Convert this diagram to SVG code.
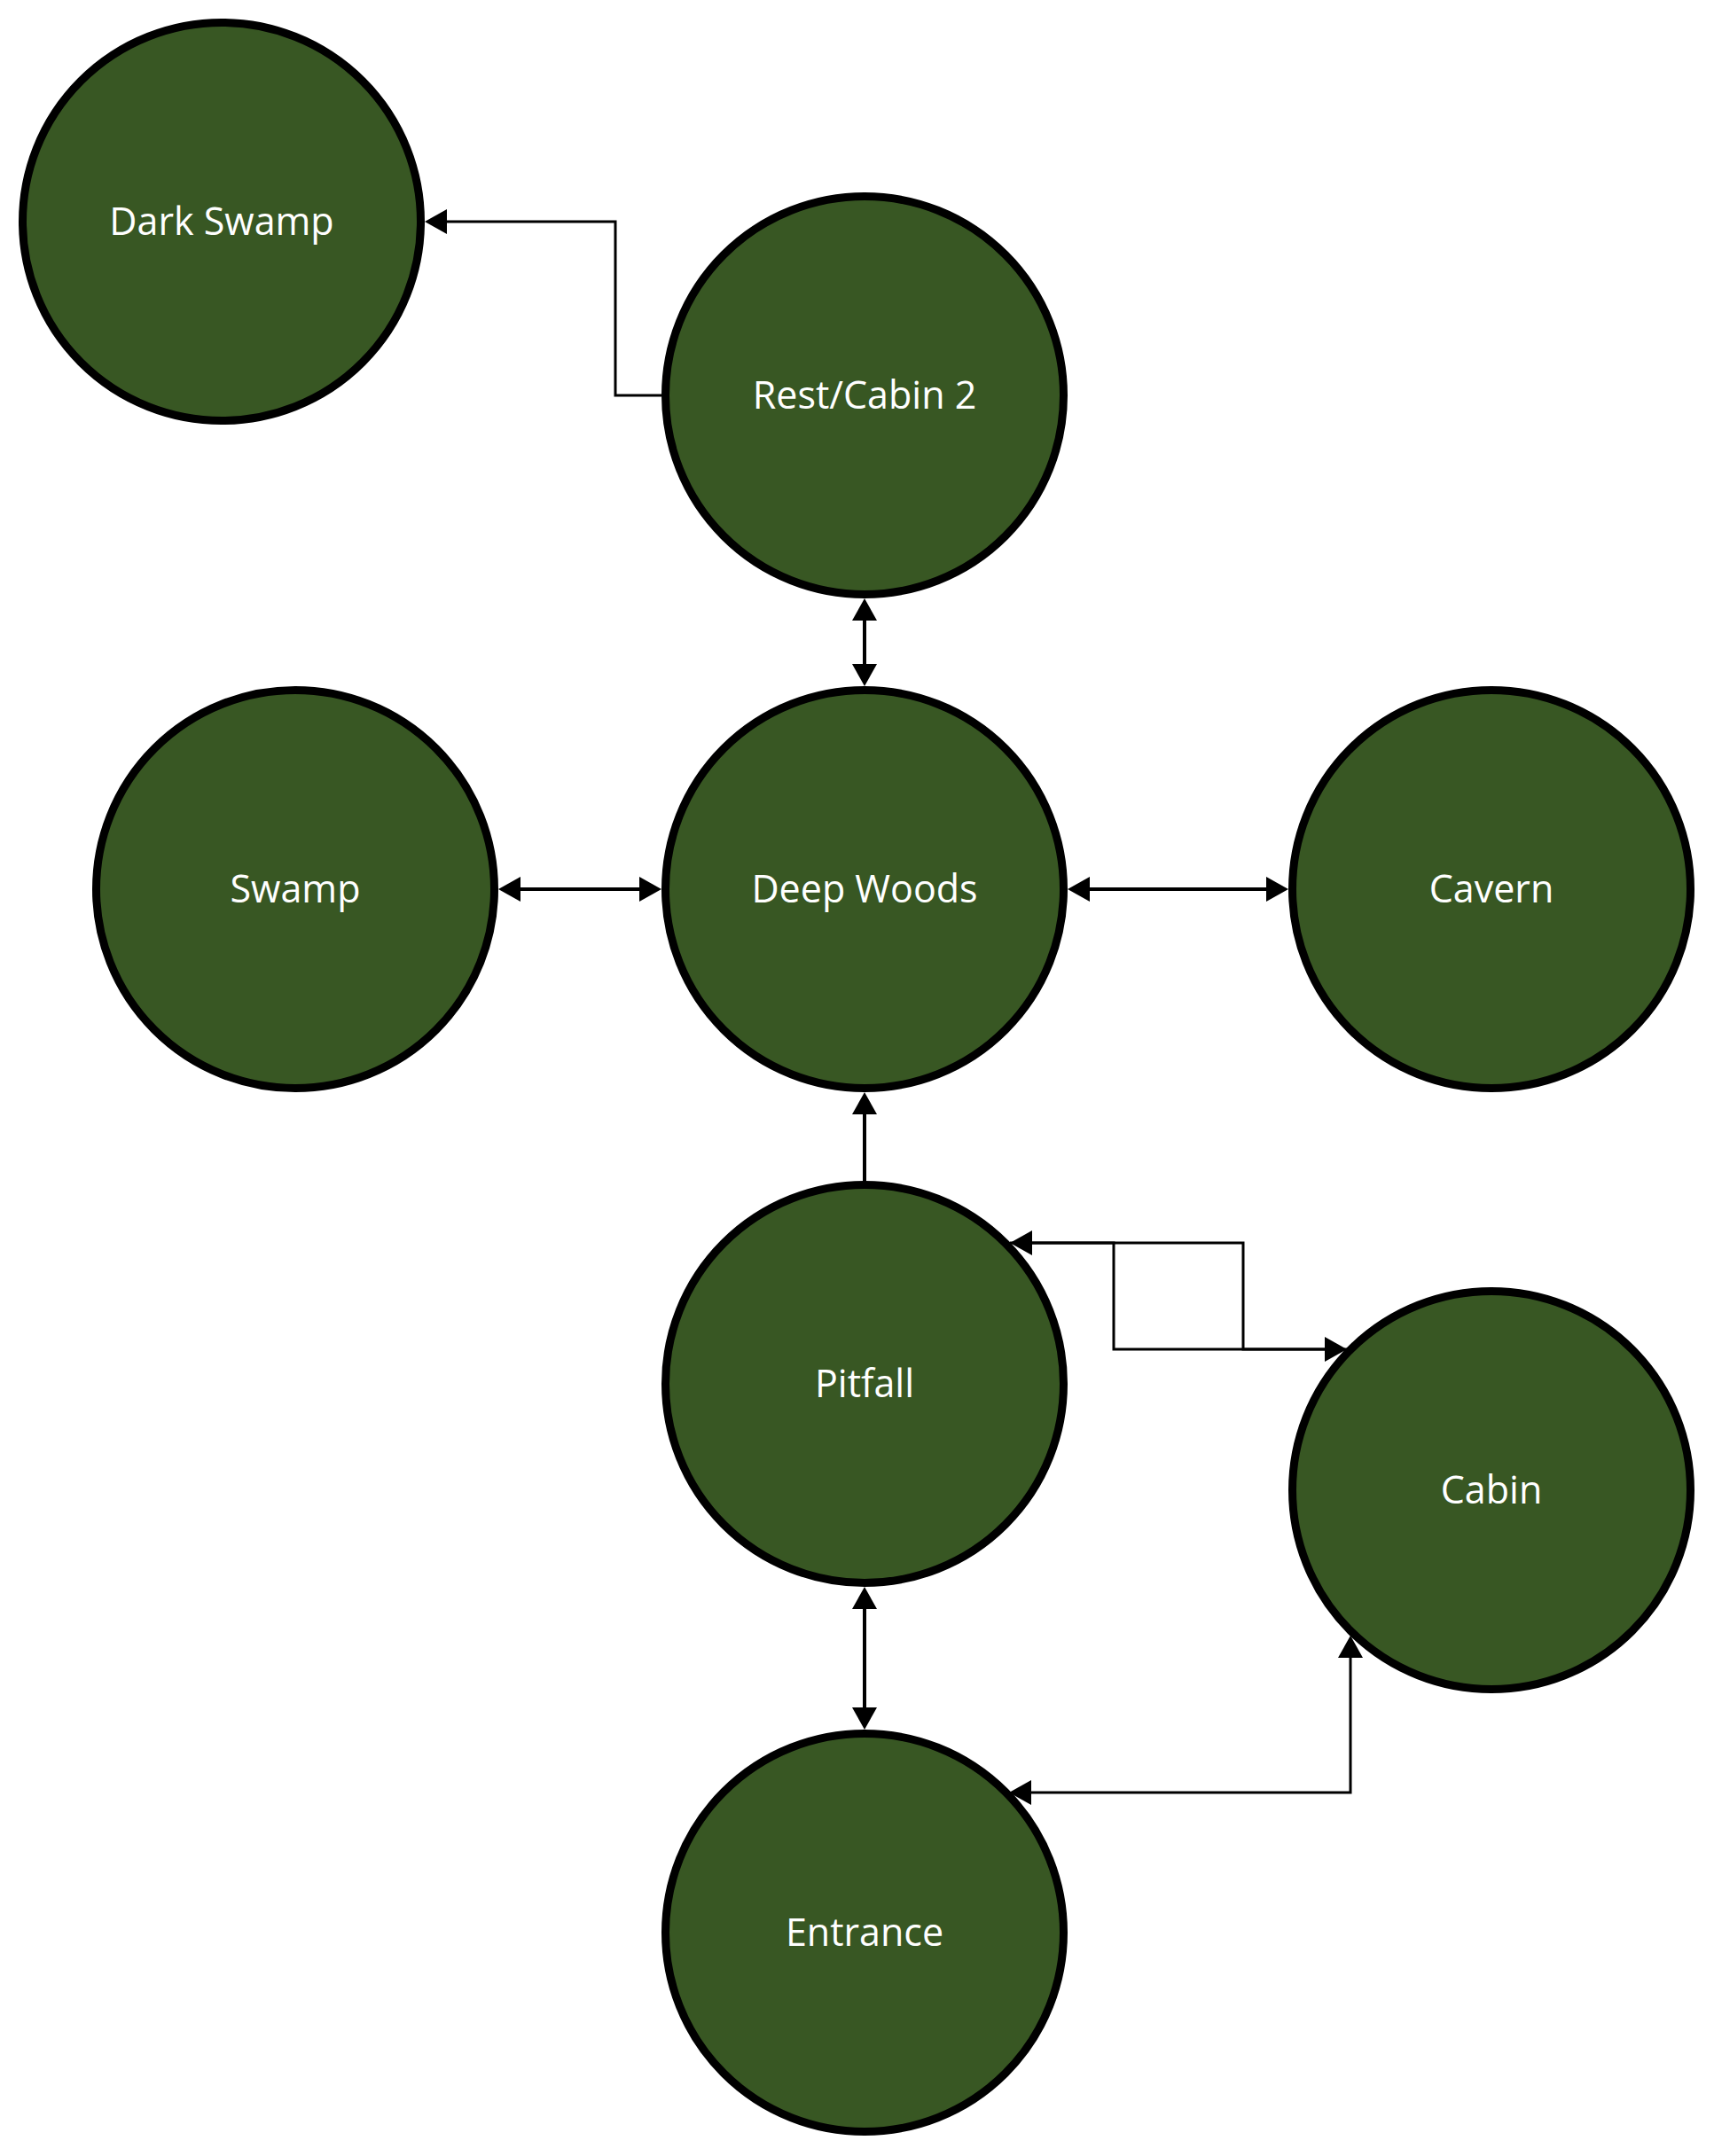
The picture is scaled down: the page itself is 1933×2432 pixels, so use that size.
<svg xmlns="http://www.w3.org/2000/svg" width="1933" height="2432" viewBox="0 0 1933 2432">
  <style>
    .node circle { fill: #385723; stroke: #000; stroke-width: 9; }
    .node text { fill: #fff; font-family: "Open Sans", "Noto Sans", "Liberation Sans", sans-serif; font-size: 43px; text-anchor: middle; }
    .link { fill: none; stroke: #000; stroke-width: 4; }
    .link.thin { stroke-width: 3; }
  </style>
  <defs>
    <!-- arrowhead drawn with its base on the path end, tip 25px beyond -->
    <marker id="arrow" viewBox="0 0 25 28" refX="0" refY="14" markerWidth="25" markerHeight="28" markerUnits="userSpaceOnUse" orient="auto-start-reverse">
      <path d="M0,0 L25,14 L0,28 Z" fill="#000"/>
    </marker>
  </defs>

  <rect width="1933" height="2432" fill="#fff"/>

  <g id="connectors">
    <!-- Rest/Cabin 2 <-> Deep Woods -->
    <path class="link" d="M975,700 V749" marker-start="url(#arrow)" marker-end="url(#arrow)"/>
    <!-- Swamp <-> Deep Woods -->
    <path class="link" d="M587,1003 H721" marker-start="url(#arrow)" marker-end="url(#arrow)"/>
    <!-- Deep Woods <-> Cavern -->
    <path class="link" d="M1229,1003 H1428" marker-start="url(#arrow)" marker-end="url(#arrow)"/>
    <!-- Pitfall -> Deep Woods -->
    <path class="link" d="M975,1332 V1257" marker-end="url(#arrow)"/>
    <!-- Pitfall <-> Entrance -->
    <path class="link" d="M975,1815 V1926" marker-start="url(#arrow)" marker-end="url(#arrow)"/>
    <!-- Rest/Cabin 2 -> Dark Swamp -->
    <path class="link thin" d="M746,446 H694 V250 H504" marker-end="url(#arrow)"/>
    <!-- Pitfall -> Cabin -->
    <path class="link thin" d="M1139,1402 H1402 V1522 H1494" marker-end="url(#arrow)"/>
    <!-- Cabin -> Pitfall -->
    <path class="link thin" d="M1519,1522 H1256 V1402 H1164" marker-end="url(#arrow)"/>
    <!-- Entrance <-> Cabin -->
    <path class="link thin" d="M1163,2022 H1523 V1870" marker-start="url(#arrow)" marker-end="url(#arrow)"/>
  </g>

  <g id="dark-swamp" class="node">
    <circle cx="250" cy="250" r="224.5"/>
    <text x="250" y="265">Dark Swamp</text>
  </g>
  <g id="rest-cabin-2" class="node">
    <circle cx="975" cy="446" r="224.5"/>
    <text x="975" y="461">Rest/Cabin 2</text>
  </g>
  <g id="swamp" class="node">
    <circle cx="333" cy="1003" r="224.5"/>
    <text x="333" y="1018">Swamp</text>
  </g>
  <g id="deep-woods" class="node">
    <circle cx="975" cy="1003" r="224.5"/>
    <text x="975" y="1018">Deep Woods</text>
  </g>
  <g id="cavern" class="node">
    <circle cx="1682" cy="1003" r="224.5"/>
    <text x="1682" y="1018">Cavern</text>
  </g>
  <g id="pitfall" class="node">
    <circle cx="975" cy="1561" r="224.5"/>
    <text x="975" y="1576">Pitfall</text>
  </g>
  <g id="cabin" class="node">
    <circle cx="1682" cy="1681" r="224.5"/>
    <text x="1682" y="1696">Cabin</text>
  </g>
  <g id="entrance" class="node">
    <circle cx="975" cy="2180" r="224.5"/>
    <text x="975" y="2195">Entrance</text>
  </g>
</svg>
